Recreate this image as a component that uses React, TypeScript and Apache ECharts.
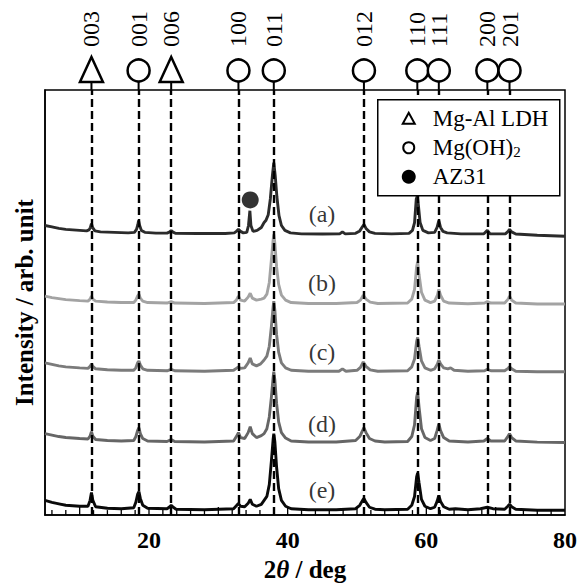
import React, { useEffect, useRef } from "react";
import * as echarts from "echarts";

// ---- Data (2θ in deg, intensity in arb. units, relative to each pattern's own baseline) ----
const traceA: number[][] = [
  [5, 9], [6, 7.5], [7, 6], [8, 5], [9, 4.5], [10, 4], [11, 3.5],
  [11.35, 4.5], [11.55, 7], [11.7, 11], [11.85, 7], [12.2, 3.5], [13, 2.5], [15, 2], [17, 1.5],
  [17.9, 2], [18.2, 5], [18.4, 10], [18.5, 14], [18.65, 9], [18.9, 4], [19.4, 2], [21, 1.2], [22.6, 1.2],
  [23.0, 2.5], [23.2, 4], [23.4, 2.5], [23.8, 1], [27, 0.8], [31, 0.8], [32.3, 1.5],
  [32.6, 3], [32.9, 5], [33.2, 3], [33.6, 1.5], [34.1, 2], [34.35, 9], [34.55, 24], [34.7, 9], [35.0, 3],
  [35.6, 4], [36.2, 7], [36.6, 12], [36.85, 14], [37.2, 20], [37.5, 36], [37.8, 60], [38.0, 73], [38.2, 60],
  [38.45, 38], [38.75, 19], [39.1, 9], [39.6, 4], [40.4, 1.5], [42, 0.5], [45, 0.3], [47.5, 0.5], [47.9, 2.5],
  [48.3, 0.5], [49.8, 1], [50.4, 3.5], [50.8, 8], [51.0, 10], [51.3, 6], [51.8, 2.5], [52.6, 1], [55, 0.5],
  [57.5, 1], [58.0, 4], [58.3, 12], [58.55, 36], [58.7, 39], [58.85, 30], [59.1, 12], [59.5, 4], [60.3, 1.5],
  [61.2, 2], [61.55, 7], [61.8, 14], [62.05, 7], [62.4, 3], [63.0, 1.5], [65, 0.5], [68.3, 0.5], [68.8, 4],
  [69.2, 0.5], [71.4, 0.5], [71.8, 3], [72.0, 5], [72.3, 2.5], [72.9, 0.3], [76, -1], [80, -2],
];

const traceB: number[][] = [
  [5, 8], [6, 6.5], [7, 5.5], [8, 4.5], [9, 4], [10, 3.5], [11.2, 3], [11.5, 5], [11.7, 8], [11.9, 5],
  [12.3, 3], [14, 2], [16, 1.5], [17.8, 1.5], [18.1, 4], [18.35, 8], [18.55, 10], [18.75, 6], [19.1, 3],
  [19.8, 1.5], [22.6, 1], [23.2, 2.5], [23.7, 1], [28, 0.5], [32.2, 1.5], [32.6, 4], [32.9, 8], [33.2, 4],
  [33.8, 3], [34.3, 7], [34.6, 11], [34.9, 6], [35.5, 4], [36.2, 5], [36.6, 6], [37.0, 10], [37.35, 22],
  [37.65, 45], [37.9, 65], [38.0, 71], [38.15, 62], [38.4, 38], [38.7, 20], [39.1, 9], [39.7, 4], [40.5, 1.5],
  [43, 0.5], [47, 0.5], [50, 1.5], [50.5, 4], [50.9, 9], [51.3, 5], [51.9, 2], [53, 0.5], [57.3, 1],
  [57.9, 5], [58.3, 15], [58.6, 38], [58.75, 43], [58.95, 30], [59.3, 12], [59.8, 4], [60.6, 1.5], [61.2, 3],
  [61.6, 9], [61.8, 15], [62.05, 9], [62.5, 3], [63.3, 1], [66, 0.3], [68.4, 1], [68.8, 2.5], [69.3, 1],
  [71.3, 1], [71.8, 5], [72.0, 8], [72.3, 4], [72.9, 1], [76, 0], [80, 0],
];

const traceC: number[][] = [
  [5, 9], [6, 7.5], [7, 6], [8, 5], [9, 4.5], [10, 4], [11.2, 3.5], [11.5, 5.5], [11.7, 8], [11.9, 5.5],
  [12.3, 3], [14, 2], [16, 1.5], [17.8, 1.5], [18.1, 4], [18.35, 9], [18.55, 11], [18.75, 7], [19.1, 3],
  [19.8, 1.5], [22.6, 1], [23.2, 2.5], [23.7, 1], [28, 0.5], [32.2, 1.5], [32.6, 3.5], [32.9, 5], [33.2, 3.5],
  [33.8, 4], [34.3, 9], [34.6, 14], [34.9, 8], [35.5, 6], [36.1, 8], [36.6, 12], [37.0, 16], [37.35, 26],
  [37.65, 46], [37.9, 66], [38.0, 72], [38.15, 63], [38.4, 38], [38.7, 20], [39.1, 9], [39.7, 4], [40.5, 1.5],
  [43, 0.5], [47.4, 0.5], [47.9, 3], [48.4, 0.5], [50, 1.5], [50.5, 4.5], [50.9, 10], [51.3, 5.5], [51.9, 2],
  [53, 0.5], [57.3, 1], [57.9, 5], [58.3, 13], [58.6, 31], [58.75, 35], [58.95, 26], [59.3, 11], [59.8, 4],
  [60.6, 1.5], [61.2, 3], [61.6, 8], [61.8, 12], [62.05, 8], [62.5, 4], [63.1, 3], [63.5, 4], [64.0, 1.5],
  [66, 0.5], [68.4, 1], [68.8, 2.5], [69.3, 1], [71.3, 1], [71.8, 3.5], [72.0, 5], [72.3, 3], [72.9, 0.5],
  [76, 0], [80, 0],
];

const traceD: number[][] = [
  [5, 9], [6, 7.5], [7, 6], [8, 5], [9, 4.5], [10, 4], [11.2, 3.5], [11.5, 6.5], [11.7, 11], [11.9, 6.5],
  [12.3, 3], [14, 2], [16, 1.5], [17.8, 2], [18.1, 6], [18.35, 12], [18.55, 15], [18.75, 9], [19.1, 4],
  [19.8, 1.5], [22.6, 1], [23.2, 3], [23.7, 1], [28, 0.5], [32.2, 1.5], [32.6, 6], [32.9, 10], [33.2, 5],
  [33.8, 4], [34.3, 10], [34.6, 16], [34.9, 9], [35.5, 5], [36.2, 7], [36.6, 9], [37.0, 14], [37.35, 26],
  [37.65, 46], [37.9, 66], [38.0, 72], [38.15, 64], [38.4, 40], [38.7, 21], [39.1, 10], [39.7, 4.5],
  [40.5, 1.5], [43, 0.5], [47, 0.5], [49.8, 2], [50.4, 6], [50.8, 12], [51.0, 15], [51.3, 10], [51.8, 4],
  [52.6, 1.5], [54, 0.5], [57.3, 1], [57.9, 6], [58.3, 18], [58.6, 46], [58.75, 51], [58.95, 36], [59.3, 14],
  [59.8, 5], [60.6, 2], [61.2, 4], [61.55, 12], [61.8, 19], [62.05, 12], [62.5, 5], [63.3, 1.5], [66, 0.5],
  [68.3, 1.5], [68.8, 4], [69.3, 1.5], [71.3, 1.5], [71.75, 6], [72.0, 9], [72.3, 5], [72.9, 1.5], [76, 0.3],
  [80, 0],
];

const traceE: number[][] = [
  [5, 10], [6, 8], [7, 6.5], [8, 5], [9, 4.5], [10, 4], [11.2, 4], [11.5, 10], [11.7, 18], [11.9, 10],
  [12.3, 3.5], [14, 2], [16, 1.5], [17.8, 2.5], [18.1, 8], [18.35, 16], [18.55, 19], [18.75, 12], [19.1, 5],
  [19.8, 2], [22.6, 1.5], [23.0, 3.5], [23.2, 5], [23.4, 3.5], [23.9, 1], [28, 0.5], [32.2, 1.5], [32.6, 4.5],
  [32.9, 7], [33.2, 4], [33.8, 3.5], [34.3, 7], [34.6, 11], [34.9, 6], [35.5, 4], [36.2, 6], [36.6, 10],
  [37.0, 14], [37.35, 26], [37.65, 50], [37.9, 72], [38.0, 78], [38.15, 70], [38.4, 44], [38.7, 22],
  [39.1, 10], [39.7, 4], [40.5, 1.5], [43, 0.5], [47, 0.5], [49.8, 1.5], [50.4, 5], [50.8, 10], [51.0, 12],
  [51.3, 8], [51.8, 3], [52.6, 1], [54, 0.5], [57.3, 1], [57.9, 5], [58.3, 14], [58.6, 34], [58.75, 38],
  [58.95, 28], [59.3, 11], [59.8, 4], [60.6, 1.5], [61.2, 3], [61.55, 9], [61.8, 15], [62.05, 9], [62.5, 3.5],
  [63.3, 1], [64.2, 1.5], [66, 0.5], [67.8, 1.5], [68.8, 3], [69.6, 1.5], [71.3, 1], [71.75, 4], [72.0, 6],
  [72.3, 3.5], [72.9, 1], [76, 0], [80, 0],
];

const traces = [traceA, traceB, traceC, traceD, traceE];
const sampleNames = ["(a)", "(b)", "(c)", "(d)", "(e)"];
const sampleOffsets = [286, 215, 146, 74, 5];
const sampleColors = ["#2b2b2b", "#a3a3a3", "#7b7b7b", "#666666", "#0a0a0a"];
const sampleLabelPos: number[][] = [
  [44.95, 307], [44.95, 236], [44.95, 166], [44.95, 93], [44.95, 26],
];

// reflections: 2θ, phase (0 = Mg-Al LDH triangle, 1 = Mg(OH)2 circle), hkl
const peakPositions = [11.7, 18.5, 23.2, 32.9, 38.0, 51.0, 58.7, 61.8, 68.8, 72.0];
const peakPhases = [0, 1, 0, 1, 1, 1, 1, 1, 1, 1];
const peakLabels = ["003", "001", "006", "100", "011", "012", "110", "111", "200", "201"];

const az31Marker: number[][] = [[34.6, 321]];

const X_MIN = 5;
const X_MAX = 80;
const Y_MIN = 0;
const Y_MAX = 433;
const xTickLabels = [20, 40, 60, 80];
const xTickMarks = [
  6, 8, 10, 12, 14, 16, 18, 20, 22, 24, 26, 28, 30, 32, 34, 36, 38, 40, 42, 44, 46, 48, 50,
  52, 54, 56, 58, 60, 62, 64, 66, 68, 70, 72, 74, 76, 78,
];
const xMajorTickMarks = [10, 20, 30, 40, 50, 60, 70];

const SERIF = "'Liberation Serif', 'Times New Roman', serif";

export default function App() {
  const ref = useRef<HTMLDivElement>(null);

  useEffect(() => {
    if (!ref.current) return;
    const chart = echarts.init(ref.current, undefined, { renderer: "svg" });

    const lineSeries = traces.map((t, i) => ({
      type: "line",
      name: sampleNames[i],
      data: t.map((p) => [p[0], p[1] + sampleOffsets[i]]),
      showSymbol: false,
      symbol: "none",
      smooth: false,
      lineStyle: { color: sampleColors[i], width: 2.9 },
      z: 3,
      silent: true,
    }));

    const LZ = 100;

    const option: any = {
      animation: false,
      grid: {
        left: 45,
        right: 16,
        top: 90,
        bottom: 64,
        show: true,
        borderColor: "#000",
        borderWidth: 1.5,
        backgroundColor: "transparent",
      },
      xAxis: {
        type: "value",
        min: X_MIN,
        max: X_MAX,
        interval: 5,
        axisLine: { show: true, onZero: false, lineStyle: { color: "#000", width: 1.5 } },
        axisTick: { show: false },
        minorTick: { show: false },
        splitLine: { show: false },
        axisLabel: {
          margin: 13,
          color: "#000",
          fontFamily: SERIF,
          fontWeight: "bold",
          fontSize: 24,
          formatter: (v: number) => (xTickLabels.includes(v) ? String(v) : ""),
        },
        name: "{n|2}{i|θ}{n| / deg}",
        nameLocation: "middle",
        nameGap: 40,
        nameTextStyle: {
          rich: {
            n: { fontFamily: SERIF, fontWeight: "bold", fontSize: 25, color: "#000" },
            i: { fontFamily: SERIF, fontWeight: "bold", fontStyle: "italic", fontSize: 25, color: "#000" },
          },
        },
      },
      yAxis: {
        type: "value",
        min: Y_MIN,
        max: Y_MAX,
        axisLine: { show: true, lineStyle: { color: "#000", width: 1.5 } },
        axisTick: { show: false },
        axisLabel: { show: false },
        splitLine: { show: false },
        name: "Intensity / arb. unit",
        nameLocation: "middle",
        nameRotate: 90,
        nameGap: 8,
        nameTextStyle: { fontFamily: SERIF, fontWeight: "bold", fontSize: 25, color: "#000" },
      },
      series: [
        {
          type: "line",
          name: "guides",
          data: [],
          silent: true,
          z: 2,
          markLine: {
            silent: true,
            symbol: ["none", "none"],
            label: { show: false },
            lineStyle: { type: [8, 4], color: "#000", width: 2.4 },
            data: peakPositions.map((x) => ({ xAxis: x })),
          },
        },
        {
          type: "custom",
          name: "ticks",
          coordinateSystem: "cartesian2d",
          silent: true,
          clip: false,
          z: 7,
          data: xTickMarks.map((v) => [v, Y_MIN]),
          renderItem: (params: any, api: any) => {
            const v = api.value(0);
            const p = api.coord([v, Y_MIN]);
            const len = xMajorTickMarks.includes(v) ? 8 : 5;
            return {
              type: "line",
              shape: { x1: p[0], y1: p[1], x2: p[0], y2: p[1] - len },
              style: { stroke: "#000", lineWidth: 1.3 },
            };
          },
        },
        ...lineSeries,
        {
          type: "scatter",
          name: "AZ31",
          data: az31Marker,
          symbol: "circle",
          symbolSize: 17,
          itemStyle: { color: "#000" },
          z: 4,
          silent: true,
        },
        {
          type: "scatter",
          name: "labels",
          data: sampleLabelPos.map((p, i) => ({ value: p, name: sampleNames[i] })),
          symbolSize: 0,
          silent: true,
          z: 5,
          label: {
            show: true,
            position: "inside",
            formatter: (p: any) => p.name,
            fontFamily: SERIF,
            fontSize: 24,
            color: "#000",
          },
        },
        {
          type: "custom",
          name: "reflections",
          coordinateSystem: "cartesian2d",
          clip: false,
          silent: true,
          z: 6,
          data: peakPositions.map((x, i) => [x, peakPhases[i]]),
          renderItem: (params: any, api: any) => {
            const x = api.value(0);
            const kind = api.value(1);
            const p = api.coord([x, Y_MAX]);
            const cx = p[0];
            const top = p[1];
            const children: any[] = [
              {
                type: "line",
                shape: { x1: cx, y1: top, x2: cx, y2: top - 8 },
                style: { stroke: "#000", lineWidth: 2 },
              },
            ];
            if (kind === 0) {
              children.push({
                type: "polygon",
                shape: { points: [[cx, top - 33], [cx - 11.5, top - 8], [cx + 11.5, top - 8]] },
                style: { fill: "#fff", stroke: "#000", lineWidth: 2.5 },
              });
            } else {
              children.push({
                type: "circle",
                shape: { cx, cy: top - 19.5, r: 11 },
                style: { fill: "#fff", stroke: "#000", lineWidth: 2.5 },
              });
            }
            children.push({
              type: "text",
              x: cx,
              y: top - 43,
              rotation: Math.PI / 2,
              style: {
                text: peakLabels[params.dataIndex],
                fill: "#000",
                font: `24px ${SERIF}`,
                align: "left",
                verticalAlign: "middle",
              },
            });
            return { type: "group", children };
          },
        },
      ],
      graphic: [
        {
          type: "group",
          left: 377,
          top: 99,
          z: LZ,
          children: [
            {
              type: "rect",
              z: LZ,
              shape: { x: 0, y: 0, width: 182, height: 96 },
              style: { fill: "#fff", stroke: "#000", lineWidth: 1.5 },
            },
            {
              type: "polygon",
              z: LZ + 1,
              shape: { points: [[31, 13], [25, 24], [37, 24]] },
              style: { fill: "#fff", stroke: "#000", lineWidth: 2 },
            },
            {
              type: "circle",
              z: LZ + 1,
              shape: { cx: 31, cy: 48, r: 5.5 },
              style: { fill: "#fff", stroke: "#000", lineWidth: 2 },
            },
            {
              type: "circle",
              z: LZ + 1,
              shape: { cx: 31, cy: 77, r: 7 },
              style: { fill: "#000" },
            },
            {
              type: "text",
              z: LZ + 1,
              x: 55,
              y: 19,
              style: { text: "Mg-Al LDH", font: `23px ${SERIF}`, fill: "#000", verticalAlign: "middle" },
            },
            {
              type: "text",
              z: LZ + 1,
              x: 55,
              y: 48,
              style: {
                text: "{n|Mg(OH)}{s|2}",
                verticalAlign: "middle",
                rich: {
                  n: { fontFamily: SERIF, fontSize: 23, fill: "#000", color: "#000" },
                  s: { fontFamily: SERIF, fontSize: 15, fill: "#000", color: "#000", padding: [8, 0, 0, 0] },
                },
              },
            },
            {
              type: "text",
              z: LZ + 1,
              x: 55,
              y: 77,
              style: { text: "AZ31", font: `23px ${SERIF}`, fill: "#000", verticalAlign: "middle" },
            },
          ],
        },
      ],
    };

    chart.setOption(option);
    return () => chart.dispose();
  }, []);

  return (
    <div
      ref={ref}
      style={{ position: "absolute", left: 0, top: 0, width: 581, height: 587, background: "#fff" }}
    />
  );
}
